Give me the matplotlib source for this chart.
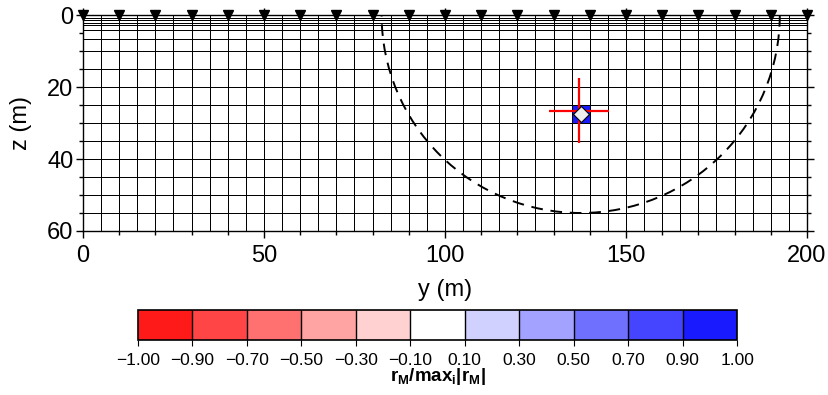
import numpy as np
import matplotlib
matplotlib.use("Agg")
import matplotlib.pyplot as plt
from matplotlib.colors import ListedColormap, BoundaryNorm
from matplotlib.patches import Arc

plt.rcParams['font.family'] = ['Liberation Sans', 'DejaVu Sans']
plt.rcParams['mathtext.fontset'] = 'custom'
plt.rcParams['mathtext.bf'] = 'Liberation Sans:bold'
plt.rcParams['mathtext.rm'] = 'Liberation Sans'
plt.rcParams['axes.unicode_minus'] = True

# mesh
y_edges = [0, 5, 10, 15, 20, 25, 30, 35, 40, 45, 50, 55, 60, 65, 70, 75, 80, 85, 90, 95, 100,
           105, 110, 115, 120, 125, 130, 135, 140, 145, 150, 155, 160, 165, 170, 175, 180, 185,
           190, 195, 200]
z_edges = [0, 0.7, 1.4, 2.1, 2.9, 4.1, 6.6, 10, 15, 20, 25, 30, 35, 40, 45, 50, 55, 60]

# resolution kernel: one non-zero cell
peak_y = 137.5
peak_z = 27.5
peak_value = 1.0

# electrodes
electrode_y = [0, 10, 20, 30, 40, 50, 60, 70, 80, 90, 100, 110, 120, 130, 140, 150, 160, 170, 180, 190, 200]

# estimated position and spread
center_y = 137.0
center_z = 26.6
spread_y = 8.3
spread_z = 9.0

# sensitivity boundary
arc_center_y = 137.5
arc_radius = 55.0

bounds = [-1.0, -0.9, -0.7, -0.5, -0.3, -0.1, 0.1, 0.3, 0.5, 0.7, 0.9, 1.0]
colors = ['#ff1a1a', '#ff4545', '#ff7070', '#ffa3a3', '#ffd1d1', '#ffffff',
          '#d1d1ff', '#a3a3ff', '#7070ff', '#4545ff', '#1a1aff']

cmap = ListedColormap(colors)
norm = BoundaryNorm(bounds, cmap.N)

yc = 0.5 * (np.array(y_edges[:-1]) + np.array(y_edges[1:]))
zc = 0.5 * (np.array(z_edges[:-1]) + np.array(z_edges[1:]))
values = np.zeros((len(zc), len(yc)))
iy = np.argmin(np.abs(yc - peak_y))
iz = np.argmin(np.abs(zc - peak_z))
values[iz, iy] = peak_value

fig = plt.figure(figsize=(8.29, 3.95), dpi=100)
ax = fig.add_axes([0.1001, 0.4152, 0.8733, 0.5468])

ax.pcolormesh(y_edges, z_edges, values, cmap=cmap, norm=norm,
              edgecolors='black', linewidth=0.65)

arc = Arc((arc_center_y, 0), 2 * arc_radius, 2 * arc_radius, theta1=0, theta2=180,
          color='black', lw=1.4, linestyle=(0, (6, 4)))
ax.add_patch(arc)

ax.errorbar([center_y], [center_z], xerr=[spread_y], yerr=[spread_z],
            fmt='none', ecolor='red', elinewidth=1.6, capsize=0, zorder=5)
ax.plot([peak_y], [peak_z], marker='D', markersize=8, markerfacecolor='#eeeeee',
        markeredgecolor='black', markeredgewidth=0.8, linestyle='none', zorder=6)

ax.plot(electrode_y, [0] * len(electrode_y), linestyle='none', marker='v',
        markersize=7, color='black', clip_on=False, zorder=7)

ax.set_xlim(0, 200)
ax.set_ylim(60, 0)
ax.set_xticks([0, 50, 100, 150, 200])
ax.set_xticks(np.arange(0, 201, 10), minor=True)
ax.set_yticks([0, 20, 40, 60])
ax.set_yticks(np.arange(0, 61, 5), minor=True)
ax.tick_params(which='both', direction='out', top=True, right=True, labelsize=17)
ax.tick_params(axis='x', pad=5)
ax.tick_params(axis='y', pad=2)
ax.tick_params(which='major', length=5, width=1)
ax.tick_params(which='minor', length=3, width=1)
ax.set_xlabel('y (m)', fontsize=17, labelpad=9)
ax.set_ylabel('z (m)', fontsize=17, labelpad=11)
for s in ax.spines.values():
    s.set_linewidth(1.0)

cax = fig.add_axes([0.1665, 0.1392, 0.7226, 0.0759])
sm = matplotlib.cm.ScalarMappable(norm=norm, cmap=cmap)
cb = fig.colorbar(sm, cax=cax, orientation='horizontal', ticks=bounds, drawedges=True)
cb.ax.set_xticklabels([('%.2f' % b).replace('-', '\u2212') for b in bounds])
cb.ax.tick_params(labelsize=12.5, length=4, pad=5)
cb.outline.set_linewidth(1.2)
cb.dividers.set_linewidth(1.0)
cb.set_label(r'$\mathbf{r_M/max_i|r_M|}$', fontsize=13.5, labelpad=-1)

fig.savefig('out.png', dpi=100)
